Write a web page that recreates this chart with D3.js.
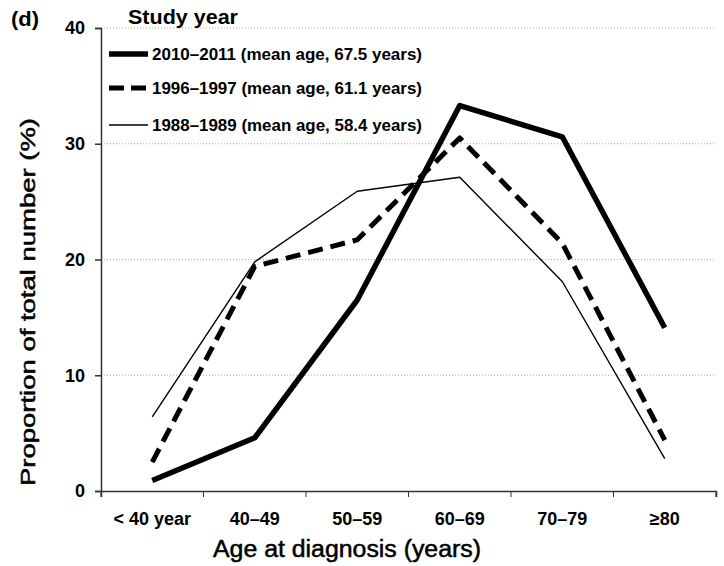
<!DOCTYPE html>
<meta charset="utf-8">
<style>
body { margin: 0; background: #fff; }
text { font-family: "Liberation Sans", Arial, sans-serif; fill: #000; }
.cond { font-family: "Liberation Sans Narrow", "Arial Narrow", "Liberation Sans", sans-serif; }
.grid line { stroke: #aaa; stroke-width: 1; stroke-dasharray: 1,2; }
.title { stroke: #000; stroke-width: 0.5px; }
</style>
<body>
<script src="https://d3js.org/d3.v7.min.js"></script>
<script>
var ageGroups = ["< 40 year", "40\u201349", "50\u201359", "60\u201369", "70\u201379", "\u226580"];
var y2010 = [0.9, 4.6, 16.5, 33.3, 30.6, 14.1];
var y1996 = [2.5, 19.4, 21.7, 30.5, 21.4, 4.4];
var y1988 = [6.4, 19.8, 25.9, 27.1, 18.1, 2.8];
var yTicks = [0, 10, 20, 30, 40];

var seriesNames = ["2010\u20132011 (mean age, 67.5 years)",
                   "1996\u20131997 (mean age, 61.1 years)",
                   "1988\u20131989 (mean age, 58.4 years)"];

var series = [
  {name: seriesNames[0], values: y2010, width: 5.5, dash: null},
  {name: seriesNames[1], values: y1996, width: 5, dash: "15,8"},
  {name: seriesNames[2], values: y1988, width: 1.4, dash: null}
];

var width = 724, height = 566;
var margin = {left: 101, right: 8, top: 28, bottom: 75};

var svg = d3.select("body").append("svg")
    .attr("width", width)
    .attr("height", height);

var x = d3.scaleBand()
    .domain(ageGroups)
    .range([margin.left, width - margin.right]);

var y = d3.scaleLinear()
    .domain([0, 40])
    .range([height - margin.bottom, margin.top]);

// grid
svg.append("g")
    .attr("class", "grid")
  .selectAll("line")
  .data(yTicks.filter(function(d) { return d > 0; }))
  .enter().append("line")
    .attr("x1", margin.left)
    .attr("x2", width - margin.right)
    .attr("y1", function(d) { return y(d); })
    .attr("y2", function(d) { return y(d); });

// y axis
var yAxis = svg.append("g")
    .attr("transform", "translate(" + margin.left + ",0)")
    .call(d3.axisLeft(y).tickValues(yTicks).tickSize(6).tickPadding(10));
yAxis.selectAll("text")
    .style("font-size", "18px")
    .style("font-weight", "bold")
    .style("font-family", "'Liberation Sans', sans-serif");

// x axis
var xAxis = svg.append("g")
    .attr("transform", "translate(0," + y(0) + ")")
    .call(d3.axisBottom(x).tickSize(6).tickPadding(12));
xAxis.selectAll(".tick line").remove();
xAxis.selectAll(".tick text")
    .attr("class", "cond")
    .style("font-size", "18px")
    .style("font-weight", "bold")
    .attr("dy", "0.9em");
// boundary ticks between categories
var bounds = ageGroups.map(function(d) { return x(d); }).concat([x.range()[1]]);
xAxis.selectAll(".bound")
  .data(bounds)
  .enter().append("line")
    .attr("class", "bound")
    .attr("x1", function(d) { return d; })
    .attr("x2", function(d) { return d; })
    .attr("y1", 0)
    .attr("y2", 6)
    .attr("stroke", "#333");

svg.selectAll(".domain").attr("stroke", "#333").attr("stroke-width", 1.5);
svg.selectAll(".tick line").attr("stroke", "#333").attr("stroke-width", 1.5);

// lines
var line = d3.line()
    .x(function(d, i) { return x(ageGroups[i]) + x.bandwidth() / 2; })
    .y(function(d) { return y(d); });

svg.selectAll(".series")
  .data(series.slice().reverse())
  .enter().append("path")
    .attr("class", "series")
    .attr("d", function(d) { return line(d.values); })
    .attr("fill", "none")
    .attr("stroke", "#000")
    .attr("stroke-width", function(d) { return d.width; })
    .attr("stroke-dasharray", function(d) { return d.dash; })
    .attr("stroke-linejoin", "round");

// legend
svg.append("text")
    .attr("x", 128)
    .attr("y", 24)
    .attr("textLength", 110)
    .attr("lengthAdjust", "spacingAndGlyphs")
    .style("font-size", "21px")
    .style("font-weight", "bold")
    .text("Study year");

var legendY = [54, 88, 125];
var leg = svg.selectAll(".leg")
  .data(series)
  .enter().append("g")
    .attr("class", "leg")
    .attr("transform", function(d, i) { return "translate(0," + legendY[i] + ")"; });
leg.append("line")
    .attr("x1", 109)
    .attr("x2", 148)
    .attr("stroke", "#000")
    .attr("stroke-width", function(d) { return d.width; })
    .attr("stroke-dasharray", function(d) { return d.dash ? "15,7" : null; });
leg.append("text")
    .attr("class", "cond")
    .attr("x", 152)
    .attr("y", 6)
    .attr("textLength", 270)
    .attr("lengthAdjust", "spacingAndGlyphs")
    .style("font-size", "17px")
    .style("font-weight", "bold")
    .text(function(d) { return d.name; });

// panel label
svg.append("text")
    .attr("x", 11)
    .attr("y", 26)
    .attr("textLength", 28)
    .attr("lengthAdjust", "spacingAndGlyphs")
    .style("font-size", "21px")
    .style("font-weight", "bold")
    .text("(d)");

// axis titles
svg.append("text")
    .attr("class", "cond title")
    .attr("x", 347)
    .attr("y", 557)
    .attr("text-anchor", "middle")
    .attr("textLength", 268)
    .attr("lengthAdjust", "spacingAndGlyphs")
    .style("font-size", "23px")
    .text("Age at diagnosis (years)");

svg.append("text")
    .attr("class", "title")
    .attr("transform", "translate(35,302) rotate(-90)")
    .attr("text-anchor", "middle")
    .attr("textLength", 368)
    .attr("lengthAdjust", "spacingAndGlyphs")
    .style("font-size", "21px")
    .text("Proportion of total number (%)");
</script>
</body>
